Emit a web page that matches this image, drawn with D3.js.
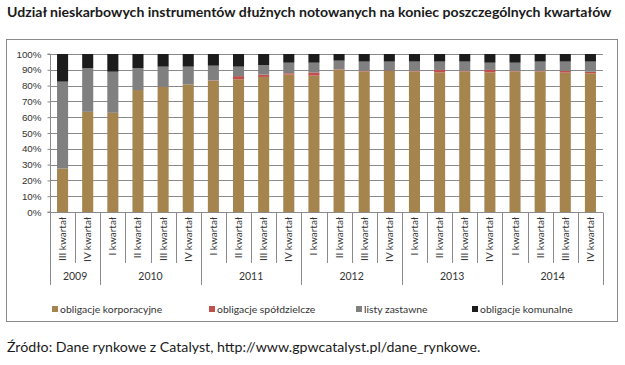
<!DOCTYPE html>
<html>
<head>
<meta charset="utf-8">
<script src="https://cdn.jsdelivr.net/npm/d3@7"></script>
<style>
  body { margin: 0; background: #fff; }
  svg { display: block; font-family: Lato, "Open Sans", sans-serif; }
</style>
</head>
<body>
<svg id="chart" width="625" height="365"></svg>
<script>
// quarters and years, one entry per bar
const quarters = ["III kwartał", "IV kwartał",
  "I kwartał", "II kwartał", "III kwartał", "IV kwartał",
  "I kwartał", "II kwartał", "III kwartał", "IV kwartał",
  "I kwartał", "II kwartał", "III kwartał", "IV kwartał",
  "I kwartał", "II kwartał", "III kwartał", "IV kwartał",
  "I kwartał", "II kwartał", "III kwartał", "IV kwartał"];
const years = ["2009", "2009",
  "2010", "2010", "2010", "2010",
  "2011", "2011", "2011", "2011",
  "2012", "2012", "2012", "2012",
  "2013", "2013", "2013", "2013",
  "2014", "2014", "2014", "2014"];

// shares in %
const korporacyjne = [27.5, 63.4, 62.8, 77.2, 79.3, 80.8, 83.1, 84, 85.5, 87, 86.3, 90, 89, 89.3, 89, 88.4, 89, 88.4, 89, 89, 88.2, 87.8];
const spoldzielcze = [0, 0, 0, 0, 0, 0, 0.2, 2, 1.5, 0.8, 2, 0.3, 0.3, 0.3, 0.4, 1.5, 0.4, 1.5, 0.3, 0.3, 1.2, 1];
const zastawne = [55, 27.7, 26, 13.9, 12.7, 11.2, 9.3, 6, 6, 6.7, 6.2, 5.5, 5.9, 5.6, 5.8, 5.3, 5.8, 4.6, 5.2, 5.9, 5.8, 6.4];
const komunalne = [17.5, 8.9, 11.2, 8.9, 8, 8, 7.4, 8, 7, 5.5, 5.5, 4.2, 4.8, 4.8, 4.8, 4.8, 4.8, 5.5, 5.5, 4.8, 4.8, 4.8];

const seriesNames = ["obligacje korporacyjne", "obligacje spółdzielcze", "listy zastawne", "obligacje komunalne"];
const seriesColors = ["#a6844e", "#c0504d", "#808080", "#1c1c1c"];
const yTicks = [0, 0.1, 0.2, 0.3, 0.4, 0.5, 0.6, 0.7, 0.8, 0.9, 1];

const svg = d3.select("#chart");
const margin = { top: 54, right: 22, bottom: 153, left: 50 };
const width = 625, height = 365;
const axisColor = "#8a8a8a";

const rows = quarters.map((q, i) => ({
  key: i,
  k: korporacyjne[i], s: spoldzielcze[i], z: zastawne[i], m: komunalne[i]
}));
const stack = d3.stack().keys(["k", "s", "z", "m"]).offset(d3.stackOffsetExpand);
const layers = stack(rows);

const x = d3.scaleBand().domain(rows.map((d) => d.key)).range([margin.left, width - margin.right]).padding(0);
const y = d3.scaleLinear().domain([0, 1]).range([height - margin.bottom, margin.top]);
const barWidth = x.bandwidth() * 0.44;

// outer frame
svg.append("rect")
  .attr("x", 6.5).attr("y", 39.5)
  .attr("width", 611).attr("height", 282)
  .attr("fill", "none").attr("stroke", axisColor);

// title
svg.append("text")
  .attr("x", 7).attr("y", 17)
  .attr("font-weight", 700).attr("font-size", "14.1px").attr("fill", "#1a1a1a")
  .text("Udział nieskarbowych instrumentów dłużnych notowanych na koniec poszczególnych kwartałów");

// gridlines
svg.append("g")
  .selectAll("line")
  .data(yTicks.slice(1))
  .join("line")
  .attr("x1", margin.left).attr("x2", width - margin.right)
  .attr("y1", (d) => Math.round(y(d)) + 0.5).attr("y2", (d) => Math.round(y(d)) + 0.5)
  .attr("stroke", axisColor);

// y axis
svg.append("g")
  .attr("transform", `translate(${margin.left + 0.5},0)`)
  .call(d3.axisLeft(y).tickValues(yTicks).tickFormat(d3.format(".0%")).tickSize(3).tickPadding(6))
  .call((g) => g.selectAll("path,line").attr("stroke", axisColor))
  .call((g) => g.selectAll("text").attr("fill", "#333").attr("font-size", "9.8px"))
  .call((g) => g.select(".domain").attr("d", `M-3,${y(1)}H0V${y(0)}H-3`));

// bars
svg.append("g")
  .selectAll("g")
  .data(layers)
  .join("g")
  .attr("fill", (d, i) => seriesColors[i])
  .selectAll("rect")
  .data((d) => d)
  .join("rect")
  .attr("x", (d) => x(d.data.key) + (x.bandwidth() - barWidth) / 2)
  .attr("width", barWidth)
  .attr("y", (d) => y(d[1]))
  .attr("height", (d) => y(d[0]) - y(d[1]));

// x axis baseline
const base = Math.round(y(0)) + 0.5;
svg.append("line")
  .attr("x1", margin.left).attr("x2", width - margin.right)
  .attr("y1", base).attr("y2", base)
  .attr("stroke", axisColor);

// quarter separators and labels
const catG = svg.append("g");
const boundaries = d3.range(rows.length + 1);
catG.selectAll("line")
  .data(boundaries)
  .join("line")
  .attr("x1", (i) => Math.round(margin.left + i * x.step()) + 0.5)
  .attr("x2", (i) => Math.round(margin.left + i * x.step()) + 0.5)
  .attr("y1", base)
  .attr("y2", (i) => (i === 0 || i === rows.length || years[i] !== years[i - 1]) ? 285 : 263)
  .attr("stroke", axisColor);

catG.selectAll("text")
  .data(rows)
  .join("text")
  .attr("transform", (d) => `translate(${x(d.key) + x.bandwidth() / 2},217) rotate(-90)`)
  .attr("text-anchor", "end")
  .attr("dy", "0.35em")
  .attr("font-size", "10px")
  .attr("fill", "#333")
  .text((d) => quarters[d.key]);

// year labels
const yearGroups = d3.groups(rows, (d) => years[d.key]);
svg.append("g")
  .selectAll("text")
  .data(yearGroups)
  .join("text")
  .attr("x", ([, list]) => (x(list[0].key) + x(list[list.length - 1].key) + x.bandwidth()) / 2)
  .attr("y", 276)
  .attr("dy", "0.35em")
  .attr("text-anchor", "middle")
  .attr("font-size", "10.5px")
  .attr("fill", "#333")
  .text(([yr]) => yr);

// legend
const legendX = [55, 212, 359, 475];
const legend = svg.append("g")
  .selectAll("g")
  .data(seriesNames)
  .join("g")
  .attr("transform", (d, i) => `translate(${legendX[i]},309)`);
legend.append("rect")
  .attr("x", -3).attr("y", -3).attr("width", 6).attr("height", 6)
  .attr("fill", (d, i) => seriesColors[i]);
legend.append("text")
  .attr("x", 5).attr("dy", "0.35em")
  .attr("font-size", "10.4px").attr("fill", "#333")
  .text((d) => d);

// source
svg.append("text")
  .attr("x", 7).attr("y", 352)
  .attr("font-size", "14.2px").attr("fill", "#1a1a1a")
  .text("Źródło: Dane rynkowe z Catalyst, http://www.gpwcatalyst.pl/dane_rynkowe.");
</script>
</body>
</html>
